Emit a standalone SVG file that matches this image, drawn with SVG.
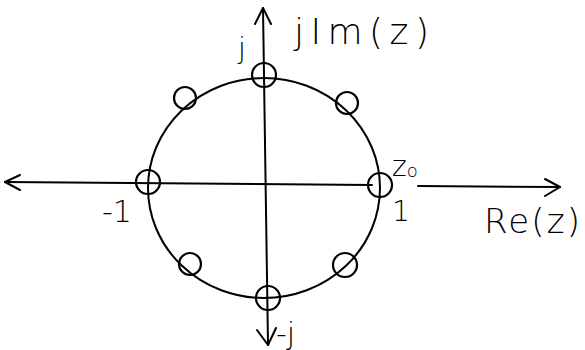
<svg xmlns="http://www.w3.org/2000/svg" width="585" height="350" viewBox="0 0 585 350">
<style>
.ln{fill:none;stroke:#000;stroke-width:2;stroke-linecap:round;stroke-linejoin:round}
.rt{fill:none;stroke:#000;stroke-width:2.2}
.tx{font-family:"DejaVu Sans","Liberation Sans",sans-serif;font-weight:300;fill:#000}
</style>
<rect width="585" height="350" fill="#fff"/>
<g id="connectors">
<path class="ln" d="M5,182 L372,185"/>
<path class="ln" d="M20,175 L5,182 L20,190"/>
<path class="ln" d="M418,186 L560,187"/>
<path class="ln" d="M545,179 L560,187 L545,196"/>
<path class="ln" d="M263,8 L268,345"/>
<path class="ln" d="M255,24 L263,8 L271,24"/>
<path class="ln" d="M257,330 L268,345 L276,328"/>
</g>
<g id="unit-circle">
<ellipse class="ln" cx="264" cy="188" rx="116" ry="110"/>
</g>
<g id="root-top"><circle class="rt" cx="264" cy="75" r="12"/></g>
<g id="root-top-right"><circle class="rt" cx="347" cy="103" r="11"/></g>
<g id="root-right"><circle class="rt" cx="380" cy="185" r="12"/></g>
<g id="root-bottom-right"><circle class="rt" cx="345" cy="265" r="12"/></g>
<g id="root-bottom"><circle class="rt" cx="268" cy="298" r="12"/></g>
<g id="root-bottom-left"><circle class="rt" cx="190" cy="264" r="11"/></g>
<g id="root-left"><circle class="rt" cx="148" cy="182" r="12"/></g>
<g id="root-top-left"><circle class="rt" cx="185" cy="98" r="11"/></g>
<g id="labels">
<text class="tx" x="238" y="58" font-size="28">j</text>
<text class="tx" x="294" y="44" font-size="36" textLength="135" lengthAdjust="spacing">jIm(z)</text>
<text class="tx" x="392" y="176" font-size="28">z<tspan font-size="18" dy="1">o</tspan></text>
<text class="tx" x="392" y="221" font-size="28">1</text>
<text class="tx" x="484" y="233" font-size="34" textLength="96" lengthAdjust="spacing">Re(z)</text>
<text class="tx" x="102" y="222" font-size="30">-1</text>
<text class="tx" x="276" y="344" font-size="30">-j</text>
</g>
</svg>
